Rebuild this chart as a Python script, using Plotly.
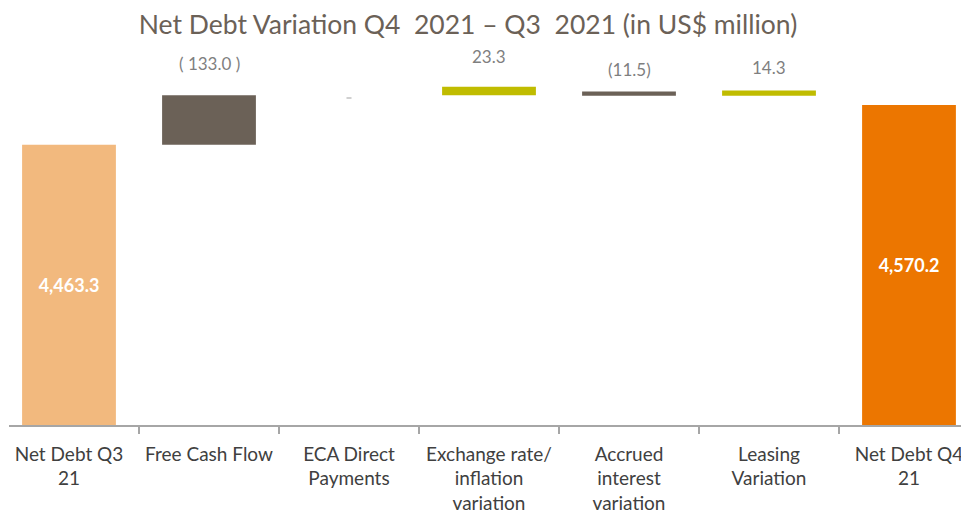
import plotly.graph_objects as go

# ---- data ----
categories = [
    "Net Debt Q3<br>21",
    "Free Cash Flow",
    "ECA Direct<br>Payments",
    "Exchange rate/<br>inflation<br>variation",
    "Accrued<br>interest<br>variation",
    "Leasing<br>Variation",
    "Net Debt Q4<br>21",
]
opening_debt = 4463.3
free_cash_flow = 133.0
eca_direct_payments = 4.5
exchange_inflation = 23.3
accrued_interest = 11.5
leasing_variation = 14.3
closing_debt = 4570.2
value_labels = ["4,463.3", "( 133.0 )", "", "23.3", "(11.5)", "14.3", "4,570.2"]
axis_floor = 3708.5
axis_ceiling = 4718.5

# ---- styling ----
c_light = "#F2B97E"
c_brown = "#6B6157"
c_olive = "#C0BC00"
c_orange = "#EC7600"
c_eca = "#D0D0D0"
txt_gray = "#7F7F7F"
font_family = "Lato"

level = opening_debt + free_cash_flow

bases = [
    axis_floor,
    opening_debt,
    level - 9,
    level,
    level - 1,
    level - 1,
    axis_floor,
]
heights = [
    opening_debt - axis_floor,
    free_cash_flow,
    eca_direct_payments,
    exchange_inflation,
    accrued_interest,
    leasing_variation,
    closing_debt - axis_floor,
]
colors = [c_light, c_brown, c_eca, c_olive, c_brown, c_olive, c_orange]
inside_text = [value_labels[0], "", "", "", "", "", value_labels[6]]

main_idx = [0, 1, 3, 4, 5, 6]
eca_idx = 2

fig = go.Figure()
fig.add_trace(go.Bar(
    x=[categories[i] for i in main_idx],
    y=[heights[i] for i in main_idx],
    base=[bases[i] for i in main_idx],
    width=0.67,
    marker=dict(color=[colors[i] for i in main_idx], line=dict(width=0)),
    text=[inside_text[i] for i in main_idx],
    textposition="inside",
    insidetextanchor="middle",
    textfont=dict(family=font_family, size=18, color="white", weight="bold"),
    hoverinfo="skip",
))
fig.add_trace(go.Bar(
    x=[categories[eca_idx]],
    y=[heights[eca_idx]],
    base=[bases[eca_idx]],
    width=0.036,
    marker=dict(color=c_eca, line=dict(width=0)),
    hoverinfo="skip",
))

label_shift = [0, 19, 0, 18, 9, 10, 0]
for i in range(1, 6):
    if not value_labels[i]:
        continue
    fig.add_annotation(
        x=categories[i], y=bases[i] + heights[i],
        text=value_labels[i], showarrow=False,
        yanchor="bottom", yshift=label_shift[i],
        font=dict(family=font_family, size=17, color=txt_gray),
    )

# page body has an 8px margin: figure is sized/placed to compensate
fig.update_layout(
    width=961, height=509,
    margin=dict(l=1, r=0, t=42, b=92, autoexpand=False),
    paper_bgcolor="white", plot_bgcolor="white",
    showlegend=False,
    barmode="overlay",
    title=dict(
        text="Net Debt Variation Q4  2021 – Q3  2021 (in US$ million)",
        x=0.4787, xanchor="center", xref="container",
        y=0.9666, yanchor="middle", yref="container",
        font=dict(family=font_family, size=26.5, color="#6B6157"),
    ),
    xaxis=dict(
        type="category",
        categoryorder="array", categoryarray=categories,
        range=[-0.4286, 6.4286],
        showline=True, linecolor="#A6A6A6", linewidth=1.5,
        ticks="outside", tickson="boundaries", ticklen=7,
        tickcolor="#A6A6A6", tickwidth=1.5,
        tickangle=0, automargin=False,
        tickfont=dict(family=font_family, size=19, color="#404040"),
        ticklabelstandoff=11,
        showgrid=False, zeroline=False,
    ),
    yaxis=dict(
        range=[axis_floor, axis_ceiling],
        visible=False, showgrid=False, zeroline=False,
    ),
)

fig.write_html("out.html")
